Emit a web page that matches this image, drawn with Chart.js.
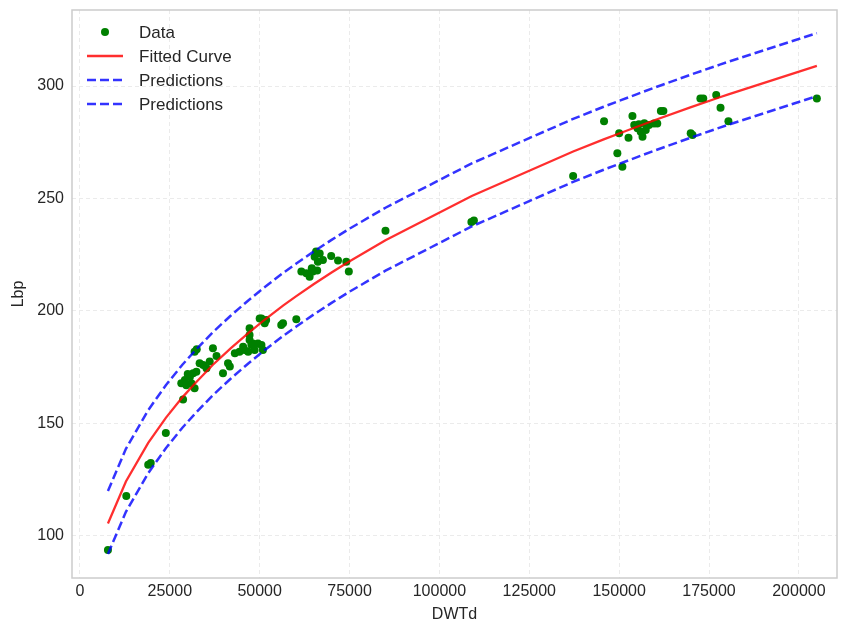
<!DOCTYPE html>
<html>
<head>
<meta charset="utf-8">
<title>Lbp vs DWTd</title>
<script src="https://cdn.jsdelivr.net/npm/chart.js@4.4.1/dist/chart.umd.min.js"></script>
<style>
  body { margin: 0; background: #ffffff; }
  #LbpChart { display: block; }
</style>
</head>
<body>
<canvas id="LbpChart" width="841" height="624"></canvas>
<script>
// Messwerte (DWTd / Lbp)
const dwtd = [7800, 12900, 19000, 19700, 23900, 28700, 28200, 29200, 29600, 30600,
  31000, 31500, 31900, 32400, 30000, 33300, 34300, 35200, 36100, 31900,
  32500, 37000, 38000, 39800, 41200, 41700, 43100, 44400, 45400, 45800,
  46800, 47200, 47700, 48100, 48600, 49500, 50500, 50900, 47200, 47200,
  50000, 50500, 51400, 51800, 56000, 56500, 60200, 61600, 63000, 63900,
  64800, 65300, 65700, 66200, 66700, 67600, 64500, 66000, 69900, 71800,
  74100, 74800, 85000, 108900, 109600, 137200, 145800, 149500, 150000, 150900,
  152600, 153700, 154200, 155100, 156000, 156500, 157400, 158300, 159700, 160600,
  155500, 157000, 161600, 162300, 169900, 170400, 172600, 173400, 177000, 178200,
  180400, 205000];
const lbp = [93.8, 117.8, 131.6, 132.4, 145.8, 160.6, 167.9, 169.3, 167.0, 170.8,
  167.9, 172.3, 165.6, 173.0, 172.0, 176.8, 176.0, 174.5, 177.5, 181.9,
  183.0, 183.4, 180.0, 172.3, 176.8, 175.3, 181.2, 181.9, 184.1, 182.7,
  181.9, 187.1, 184.9, 185.6, 182.7, 185.6, 184.9, 182.7, 189.3, 192.3,
  196.7, 196.7, 194.5, 196.0, 193.8, 194.5, 196.3, 217.5, 216.8, 215.2,
  217.5, 224.1, 226.4, 221.9, 225.6, 222.7, 219.0, 218.0, 224.4, 222.4,
  221.9, 217.5, 235.7, 239.6, 240.2, 260.0, 284.4, 270.1, 279.0, 264.1,
  277.0, 286.7, 282.7, 281.2, 279.7, 277.5, 280.4, 282.7, 283.4, 283.4,
  283.0, 283.5, 288.9, 288.9, 279.0, 278.2, 294.5, 294.5, 296.0, 290.3,
  284.4, 294.5];

// Kurve und Prognosebaender
const fitX = [7800, 12800, 19000, 23900, 28500, 32000, 37000, 42000, 47000, 51000,
  56500, 60200, 65000, 70000, 74800, 85000, 109000, 137200, 145700, 150000,
  155000, 160000, 170000, 178000, 180400, 205000];
const fitY = [105.5, 124.2, 141.4, 152.5, 161.6, 167.8, 176.1, 183.5, 190.4, 195.6,
  202.4, 206.6, 211.9, 217.1, 221.9, 231.4, 251.1, 270.9, 276.3, 278.9,
  281.9, 284.9, 290.6, 295.0, 296.3, 309.0];
const upperY = [120.0, 138.7, 155.9, 167.0, 176.1, 182.3, 190.6, 198.0, 204.9, 210.1,
  216.9, 221.1, 226.4, 231.6, 236.4, 245.9, 265.6, 285.4, 290.8, 293.4,
  296.4, 299.4, 305.1, 309.5, 310.8, 323.5];
const lowerY = [92.0, 110.7, 127.9, 139.0, 148.1, 154.3, 162.6, 170.0, 176.9, 182.1,
  188.9, 193.1, 198.4, 203.6, 208.4, 217.9, 237.6, 257.4, 262.8, 265.4,
  268.4, 271.4, 277.1, 281.5, 282.8, 295.5];

const xTicks = [0, 25000, 50000, 75000, 100000, 125000, 150000, 175000, 200000];
const yTicks = [100, 150, 200, 250, 300];

const textColor = '#262626';
const fontFamily = '"Liberation Sans", Arial, sans-serif';

function toPoints(xs, ys) {
    return xs.map((x, i) => ({ x: x, y: ys[i] }));
}

// Legende oben links im Plotbereich
const innerLegend = {
    id: 'innerLegend',
    afterDraw(chart) {
        const ctx = chart.ctx;
        const area = chart.chartArea;
        chart.data.datasets.forEach((ds, i) => {
            const y = area.top + 22 + i * 24;
            const x0 = area.left + 15;
            ctx.save();
            if (ds.showLine) {
                ctx.strokeStyle = ds.borderColor;
                ctx.lineWidth = ds.borderWidth;
                ctx.setLineDash(ds.borderDash || []);
                ctx.beginPath();
                ctx.moveTo(x0, y);
                ctx.lineTo(x0 + 36, y);
                ctx.stroke();
            } else {
                ctx.fillStyle = ds.backgroundColor;
                ctx.beginPath();
                ctx.arc(x0 + 18, y, ds.pointRadius, 0, 2 * Math.PI);
                ctx.fill();
            }
            ctx.setLineDash([]);
            ctx.fillStyle = textColor;
            ctx.font = '17px ' + fontFamily;
            ctx.textBaseline = 'middle';
            ctx.fillText(ds.label, x0 + 52, y + 1);
            ctx.restore();
        });
    }
};

// Rahmen um den Plotbereich
const frame = {
    id: 'frame',
    afterDraw(chart) {
        const ctx = chart.ctx;
        const a = chart.chartArea;
        ctx.save();
        ctx.strokeStyle = '#cccccc';
        ctx.lineWidth = 1.5;
        ctx.strokeRect(a.left, a.top, a.right - a.left, a.bottom - a.top);
        ctx.restore();
    }
};

function createLbpChart() {
    let LbpChart = document.getElementById('LbpChart');

    const chartData = {
        datasets: [
            {
                label: 'Data',
                data: toPoints(dwtd, lbp),
                backgroundColor: '#008000',
                borderColor: '#008000',
                borderWidth: 0,
                pointRadius: 4,
                showLine: false,
                order: 4
            },
            {
                label: 'Fitted Curve',
                data: toPoints(fitX, fitY),
                borderColor: 'rgba(255, 0, 0, 0.82)',
                borderWidth: 2.3,
                pointRadius: 0,
                showLine: true,
                order: 3
            },
            {
                label: 'Predictions',
                data: toPoints(fitX, upperY),
                borderColor: 'rgba(0, 0, 255, 0.8)',
                borderWidth: 2.5,
                borderDash: [9, 4],
                pointRadius: 0,
                showLine: true,
                order: 2
            },
            {
                label: 'Predictions',
                data: toPoints(fitX, lowerY),
                borderColor: 'rgba(0, 0, 255, 0.8)',
                borderWidth: 2.5,
                borderDash: [9, 4],
                pointRadius: 0,
                showLine: true,
                order: 1
            }
        ]
    };

    const gridStyle = {
        color: '#ebebeb',
        lineWidth: 1,
        drawTicks: false
    };

    const config = {
        type: 'scatter',
        data: chartData,
        options: {
            responsive: false,
            animation: false,
            devicePixelRatio: 1,
            layout: { padding: { top: 10, right: 3, left: 0, bottom: 0 } },
            font: { family: fontFamily },
            plugins: {
                legend: { display: false },
                tooltip: { enabled: false }
            },
            scales: {
                x: {
                    type: 'linear',
                    min: -2200,
                    max: 210600,
                    grid: gridStyle,
                    border: { display: false, dash: [4, 3] },
                    afterFit(scale) {
                        scale.height = 46;
                        scale.paddingLeft = 0;
                        scale.paddingRight = 0;
                    },
                    afterBuildTicks(scale) { scale.ticks = xTicks.map(v => ({ value: v })); },
                    ticks: {
                        color: textColor,
                        font: { size: 16, family: fontFamily },
                        padding: 4,
                        maxRotation: 0,
                        callback: v => String(v)
                    },
                    title: {
                        display: true,
                        text: 'DWTd',
                        color: textColor,
                        font: { size: 16, family: fontFamily },
                        padding: { top: 0, bottom: 0 }
                    }
                },
                y: {
                    type: 'linear',
                    min: 81.3,
                    max: 333.8,
                    grid: gridStyle,
                    border: { display: false, dash: [4, 3] },
                    afterFit(scale) {
                        scale.width = 72;
                        scale.paddingTop = 0;
                        scale.paddingBottom = 0;
                    },
                    afterBuildTicks(scale) { scale.ticks = yTicks.map(v => ({ value: v })); },
                    ticks: {
                        color: textColor,
                        font: { size: 16, family: fontFamily },
                        padding: 8,
                        callback: v => String(v)
                    },
                    title: {
                        display: true,
                        text: 'Lbp',
                        color: textColor,
                        font: { size: 16, family: fontFamily },
                        padding: { top: 9, bottom: 0 }
                    }
                }
            }
        },
        plugins: [frame, innerLegend]
    };

    const chart = new Chart(LbpChart, config);
}

createLbpChart();
</script>
</body>
</html>
